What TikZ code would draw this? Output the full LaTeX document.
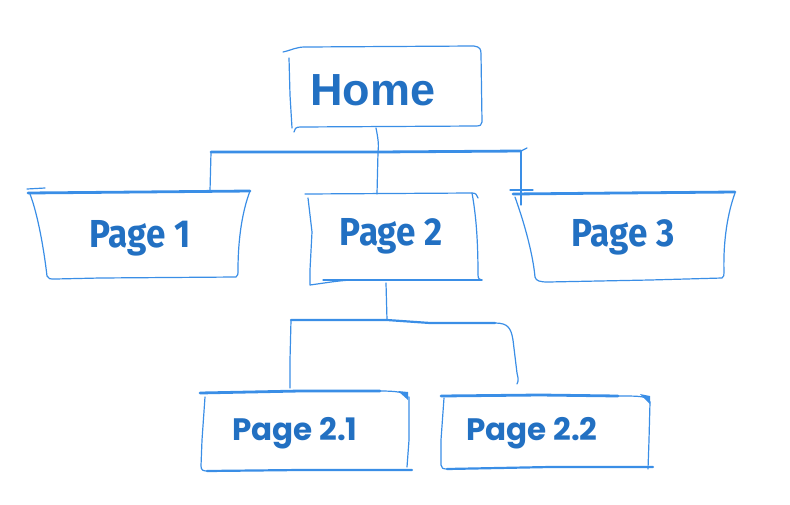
\documentclass[tikz,border=0pt]{standalone}
\usepackage{fontspec}
\newfontfamily\homefont{Liberation Sans}
\newfontfamily\pagefont[FakeStretch=0.9]{Fira Sans}
\newfontfamily\subfont{Poppins}
\definecolor{ln}{HTML}{3A8EE6}
\definecolor{tx}{HTML}{2270C2}
\begin{document}
\begin{tikzpicture}[x=1pt,y=-1pt,
  sk/.style={draw=ln,line width=1.2pt,line cap=round,line join=round},
  thk/.style={draw=ln,line width=2.8pt,line cap=round},
  hometext/.style={text=tx,font=\homefont\bfseries\fontsize{45}{50}\selectfont},
  pagetext/.style={text=tx,font=\pagefont\bfseries\fontsize{39}{44}\selectfont},
  subtext/.style={text=tx,font=\subfont\bfseries\fontsize{31}{36}\selectfont}]
\useasboundingbox (0,0) rectangle (790,504);
% ---------- text nodes
\node[hometext] (home) at (373,90) {Home};
\node[pagetext] (p1) at (140,238) {Page 1};
\node[pagetext] (p2) at (391,236) {Page 2};
\node[pagetext] (p3) at (623,237) {Page 3};
\node[subtext] (p21) at (295,433) {Page 2.1};
\node[subtext] (p22) at (532,433) {Page 2.2};
% ---------- connection points
\coordinate (homeS) at (376,128);
\coordinate (barM) at (378,152);
\coordinate (barL) at (211,152);
\coordinate (barR) at (521,151);
\coordinate (p1T) at (210,191);
\coordinate (p2T) at (377,194);
\coordinate (p3T) at (521,205);
\coordinate (p2B) at (386,283);
\coordinate (bar2M) at (387,320);
\coordinate (bar2L) at (291,320);
\coordinate (p21T) at (290,388);
\coordinate (p22T) at (517,384);
% ---------- Home box
\path[sk] (283,52) .. controls (292,50) and (296,47) .. (305,47) -- (474,46)
  .. controls (480,47) and (481,49) .. (481,54) -- (482,122)
  .. controls (482,125) and (480,126) .. (476,126) -- (300,127)
  .. controls (296,127) and (294,129) .. (294,132);
\path[sk] (289,58) -- (290,95) -- (292,128);
% ---------- Page 1 box
\path[thk] (28,193) -- (140,192) -- (250,191);
\path[sk] (27,189) -- (45,188);
\path[sk] (30,194) .. controls (38,215) and (44,250) .. (47,276)
  .. controls (48,279) and (50,279) .. (55,279) -- (100,278) -- (236,277)
  .. controls (238,276) and (238,274) .. (238,270)
  .. controls (238,240) and (242,212) .. (250,191);
% ---------- Page 2 box
\path[sk] (305,194) -- (472,193) .. controls (476,193) and (477,195) .. (478,198);
\path[sk] (308,198) -- (312,232) -- (310,270) -- (310,285)
  .. controls (325,283) and (335,281) .. (351,280);
\path[sk] (323,280) -- (482,280);
\path[sk] (472,193) .. controls (476,215) and (478,240) .. (478,275)
  .. controls (478,279) and (480,280) .. (482,280);
% ---------- Page 3 box
\path[thk] (513,194) -- (620,193) -- (735,192);
\path[sk] (510,190) -- (533,190);
\path[sk] (515,197) .. controls (525,225) and (533,255) .. (535,277)
  .. controls (536,281) and (540,282) .. (548,282) -- (650,280) -- (722,278)
  .. controls (724,277) and (724,275) .. (724,272)
  .. controls (723,240) and (728,212) .. (735,193);
% ---------- Page 2.1 box
\path[thk] (200,393) -- (300,391) -- (380,391);
\path[sk] (380,391) .. controls (395,391) and (406,392) .. (408,397);
\fill[ln] (398,391) -- (408,392) -- (408,400) -- cycle;
\path[sk] (205,397) -- (202,440) -- (201,466) .. controls (201,470) and (203,471) .. (207,471);
\path[thk, line width=2.2pt] (207,471) -- (300,470) -- (412,470);
\path[sk] (409,397) -- (409,440) -- (407,467);
% ---------- Page 2.2 box
\path[thk] (441,396) -- (540,395) -- (618,396);
\path[sk] (618,396) .. controls (640,396) and (648,396) .. (650,402);
\fill[ln] (640,394) -- (650,396) -- (650,404) -- cycle;
\path[sk] (444,398) -- (441,440) -- (441,465) .. controls (441,468) and (443,469) .. (447,469);
\path[thk, line width=2.2pt] (447,469) -- (550,467) -- (653,467);
\path[sk] (650,402) -- (649,440) -- (648,469);
% ---------- connectors
\draw[sk] (homeS) .. controls (378,138) and (379,145) .. (barM);
\draw[thk] (barL) -- (barM) -- (barR);
\draw[sk] (barR) -- (527,148);
\draw[sk] (barL) -- (p1T);
\draw[sk] (barM) -- (p2T);
\draw[sk] (barR) -- (p3T);
\draw[sk] (p2B) -- (bar2M);
\draw[thk, line width=2.2pt] (bar2L) -- (bar2M) -- (430,323) -- (495,323);
\draw[sk] (495,323) .. controls (508,323) and (511,328) .. (513,340) -- (517,373)
  .. controls (518,378) and (519,380) .. (p22T);
\draw[sk] (bar2L) -- (290,360) -- (p21T);
\end{tikzpicture}
\end{document}
